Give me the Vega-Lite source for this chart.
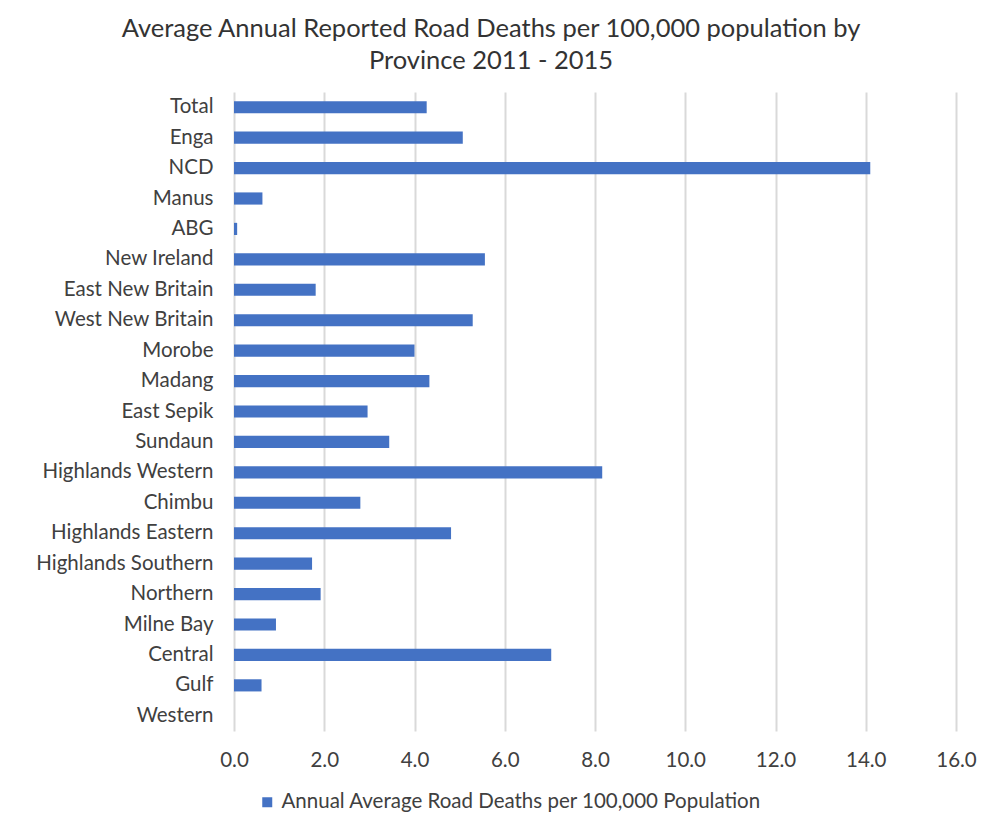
{
  "$schema": "https://vega.github.io/schema/vega-lite/v6.json",
  "width": 722,
  "height": 639,
  "autosize": "none",
  "padding": {"left": 234, "top": 92, "right": 42, "bottom": 103},
  "background": "white",
  "title": {
    "text": ["Average Annual Reported Road Deaths per 100,000 population by", "Province 2011 - 2015"],
    "anchor": "middle",
    "dx": -104,
    "offset": 18,
    "font": "Lato",
    "fontSize": 25.5,
    "fontWeight": "normal",
    "color": "#333333",
    "lineHeight": 32
  },
  "data": {
    "values": [
      {"province": "Total", "rate": 4.27},
      {"province": "Enga", "rate": 5.07},
      {"province": "NCD", "rate": 14.1},
      {"province": "Manus", "rate": 0.63},
      {"province": "ABG", "rate": 0.07},
      {"province": "New Ireland", "rate": 5.56},
      {"province": "East New Britain", "rate": 1.81},
      {"province": "West New Britain", "rate": 5.29},
      {"province": "Morobe", "rate": 4.0},
      {"province": "Madang", "rate": 4.33},
      {"province": "East Sepik", "rate": 2.96},
      {"province": "Sundaun", "rate": 3.44},
      {"province": "Highlands Western", "rate": 8.16},
      {"province": "Chimbu", "rate": 2.8},
      {"province": "Highlands Eastern", "rate": 4.81},
      {"province": "Highlands Southern", "rate": 1.73},
      {"province": "Northern", "rate": 1.92},
      {"province": "Milne Bay", "rate": 0.93},
      {"province": "Central", "rate": 7.03},
      {"province": "Gulf", "rate": 0.61},
      {"province": "Western", "rate": 0}
    ]
  },
  "mark": {"type": "bar"},
  "encoding": {
    "y": {
      "field": "province",
      "type": "nominal",
      "sort": null,
      "scale": {"paddingInner": 0.6, "paddingOuter": 0.3},
      "axis": {
        "title": null,
        "ticks": false,
        "domain": false,
        "labelPadding": 21,
        "labelFont": "Lato",
        "labelFontSize": 20.5,
        "labelColor": "#404040",
        "labelLimit": 0
      }
    },
    "x": {
      "field": "rate",
      "type": "quantitative",
      "scale": {"domain": [0, 16], "nice": false},
      "axis": {
        "title": null,
        "values": [0, 2, 4, 6, 8, 10, 12, 14, 16],
        "format": ".1f",
        "ticks": false,
        "domain": false,
        "grid": true,
        "gridColor": "#d9d9d9",
        "gridWidth": 2,
        "labelFlush": false,
        "labelPadding": 19,
        "labelFont": "Lato",
        "labelFontSize": 20.5,
        "labelColor": "#404040"
      }
    },
    "color": {
      "datum": "Annual Average Road Deaths per 100,000 Population",
      "type": "nominal",
      "scale": {"range": ["#4472c4"]},
      "legend": {
        "title": null,
        "orient": "none",
        "legendX": 23,
        "legendY": 700,
        "symbolType": "square",
        "symbolSize": 100,
        "symbolStrokeWidth": 0,
        "labelFont": "Lato",
        "labelFontSize": 20.5,
        "labelColor": "#404040",
        "labelOffset": 4,
        "labelLimit": 0
      }
    }
  },
  "config": {"view": {"stroke": null}}
}
